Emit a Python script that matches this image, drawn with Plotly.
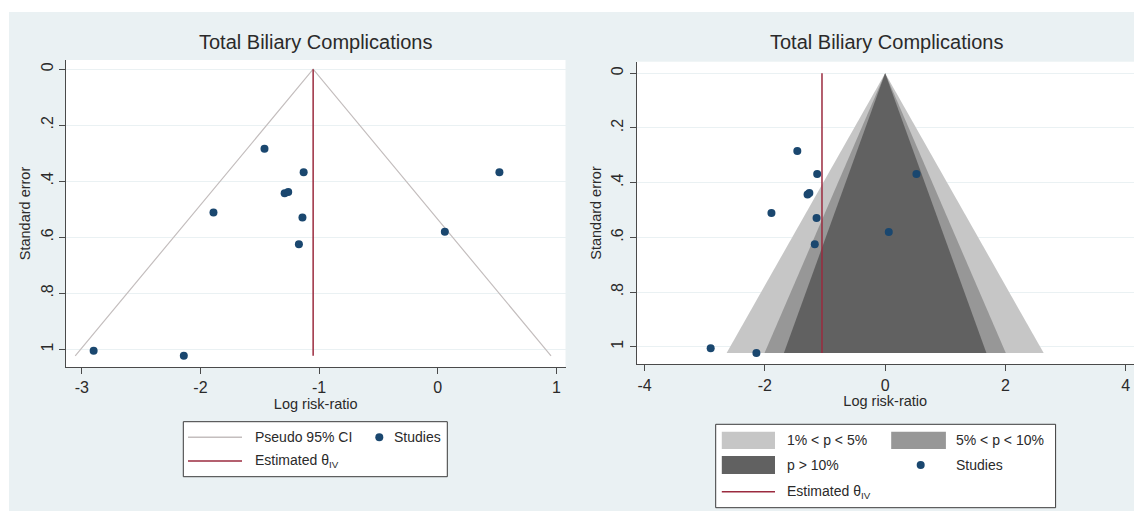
import plotly.graph_objects as go

# Study estimates: log risk-ratio and its standard error
log_rr = [-1.46, -1.13, 0.52, -1.29, -1.26, -1.89, -1.14, 0.06, -1.17, -2.90, -2.14]
std_err = [0.284, 0.368, 0.368, 0.443, 0.438, 0.511, 0.529, 0.580, 0.625, 1.005, 1.023]

# Pooled inverse-variance estimate
theta_iv = -1.05

# Critical values for the pseudo CI and the significance contours
z_ci = 1.96
contour_z = [2.576, 1.96, 1.645]
contour_labels = ["1% &lt; p &lt; 5%", "5% &lt; p &lt; 10%", "p &gt; 10%"]
contour_colors = ["#c6c6c6", "#979797", "#616161"]

y_tickvals = [0, 0.2, 0.4, 0.6, 0.8, 1.0]
y_ticktext = ["0", ".2", ".4", ".6", ".8", "1"]
x1_tickvals = [-3, -2, -1, 0, 1]
x1_ticktext = ["-3", "-2", "-1", "0", "1"]
x2_tickvals = [-4, -2, 0, 2, 4]
x2_ticktext = ["-4", "-2", "0", "2", "4"]

title_text = "Total Biliary Complications"
x_title = "Log risk-ratio"
y_title = "Standard error"

W, H = 1134, 511
FONT = "Liberation Sans, Arial, sans-serif"
TXT = "#2a2a2a"
AXC = "#4a4a4a"
BG = "#eaf1f3"
NAVY = "#1a476f"
MAROON = "#9b2b3f"
CI_GREY = "#c4bebe"

se_max = max(std_err)


def px(x):
    return x / W


def py(y):
    return 1 - y / H


fig = go.Figure()

# ---- left panel: funnel with pseudo 95% CI ----
fig.add_trace(go.Scatter(
    x=[theta_iv - z_ci * se_max, theta_iv, theta_iv + z_ci * se_max],
    y=[se_max, 0, se_max], mode="lines",
    line=dict(color=CI_GREY, width=1.2), xaxis="x", yaxis="y",
    showlegend=False, hoverinfo="skip"))
fig.add_trace(go.Scatter(
    x=[theta_iv, theta_iv], y=[0, se_max], mode="lines",
    line=dict(color=MAROON, width=1.5), xaxis="x", yaxis="y",
    showlegend=False, hoverinfo="skip"))
fig.add_trace(go.Scatter(
    x=log_rr, y=std_err, mode="markers",
    marker=dict(color=NAVY, size=8), xaxis="x", yaxis="y",
    showlegend=False))

# ---- right panel: contour-enhanced funnel ----
for z, col in zip(contour_z, contour_colors):
    fig.add_trace(go.Scatter(
        x=[-z * se_max, 0, z * se_max, -z * se_max],
        y=[se_max, 0, se_max, se_max], mode="lines", fill="toself",
        fillcolor=col, line=dict(width=0, color=col),
        xaxis="x2", yaxis="y2", showlegend=False, hoverinfo="skip"))
fig.add_trace(go.Scatter(
    x=[theta_iv, theta_iv], y=[0, se_max], mode="lines",
    line=dict(color=MAROON, width=1.5), xaxis="x2", yaxis="y2",
    showlegend=False, hoverinfo="skip"))
fig.add_trace(go.Scatter(
    x=log_rr, y=std_err, mode="markers",
    marker=dict(color=NAVY, size=8), xaxis="x2", yaxis="y2",
    showlegend=False))

axis_common = dict(
    showline=True, linecolor=AXC, linewidth=1, mirror=False,
    ticks="outside", ticklen=6, tickcolor=AXC, tickwidth=1,
    tickfont=dict(family=FONT, size=16, color=TXT), zeroline=False,
)

fig.update_layout(
    width=W, height=H, margin=dict(l=0, r=0, t=0, b=0),
    paper_bgcolor=BG, plot_bgcolor="white",
    font=dict(family=FONT, color=TXT),
    xaxis=dict(domain=[px(66), px(565.5)], range=[-3.133, 1.077],
               tickvals=x1_tickvals, ticktext=x1_ticktext, showgrid=False,
               title=dict(text=x_title, font=dict(size=14.5, color=TXT), standoff=3),
               anchor="y", **axis_common),
    yaxis=dict(domain=[py(367), py(60)], range=[1.063, -0.033],
               tickvals=y_tickvals, ticktext=y_ticktext, tickangle=-90,
               showgrid=True, gridcolor=BG, gridwidth=1,
               title=dict(text=y_title, font=dict(size=14.5, color=TXT), standoff=4),
               anchor="x", **axis_common),
    xaxis2=dict(domain=[px(636.5), 1.0], range=[-4.133, 4.136],
                tickvals=x2_tickvals, ticktext=x2_ticktext, showgrid=False,
                title=dict(text=x_title, font=dict(size=14.5, color=TXT), standoff=3),
                anchor="y2", **axis_common),
    yaxis2=dict(domain=[py(364.3), py(61.7)], range=[1.064, -0.042],
                tickvals=y_tickvals, ticktext=y_ticktext, tickangle=-90,
                showgrid=True, gridcolor=BG, gridwidth=1,
                title=dict(text=y_title, font=dict(size=14.5, color=TXT), standoff=4),
                anchor="x2", **axis_common),
    showlegend=False,
)

shapes = []
annotations = []

# white page margin around the graph region
shapes.append(dict(type="rect", xref="paper", yref="paper", x0=0, x1=1,
                   y0=py(12), y1=1, fillcolor="white", line=dict(width=0), layer="below"))
shapes.append(dict(type="rect", xref="paper", yref="paper", x0=0, x1=px(9),
                   y0=0, y1=1, fillcolor="white", line=dict(width=0), layer="below"))

# panel titles
for cx in (315, 886.5):
    annotations.append(dict(text=title_text, xref="paper", yref="paper",
                            x=px(cx), y=py(42), xanchor="center", yanchor="middle",
                            showarrow=False, font=dict(size=20, color=TXT, family=FONT)))


def legend_text(txt, x, y):
    annotations.append(dict(text=txt, xref="paper", yref="paper", x=px(x), y=py(y),
                            xanchor="left", yanchor="middle", showarrow=False,
                            font=dict(size=14, color=TXT, family=FONT)))


def legend_line(x0, x1, y, color):
    shapes.append(dict(type="line", xref="paper", yref="paper", x0=px(x0), x1=px(x1),
                       y0=py(y), y1=py(y), line=dict(color=color, width=1.5)))


def legend_dot(x, y):
    shapes.append(dict(type="circle", xref="paper", yref="paper",
                       xsizemode="pixel", ysizemode="pixel",
                       xanchor=px(x), yanchor=py(y), x0=-4, x1=4, y0=-4, y1=4,
                       fillcolor=NAVY, line=dict(width=0)))


def legend_swatch(x0, x1, y0, y1, color):
    shapes.append(dict(type="rect", xref="paper", yref="paper", x0=px(x0), x1=px(x1),
                       y0=py(y1), y1=py(y0), fillcolor=color, line=dict(width=0)))


# left legend
shapes.append(dict(type="rect", xref="paper", yref="paper", x0=px(183.3), x1=px(447.3),
                   y0=py(476.7), y1=py(421.7), fillcolor="white",
                   line=dict(color="#3a3a3a", width=1)))
legend_line(188, 242, 437.3, CI_GREY)
legend_text("Pseudo 95% CI", 252.7, 437.3)
legend_dot(379.3, 437.3)
legend_text("Studies", 391.6, 437.3)
legend_line(188, 242, 461, MAROON)
legend_text("Estimated θ<sub>IV</sub>", 252.7, 461)

# right legend
shapes.append(dict(type="rect", xref="paper", yref="paper", x0=px(715.7), x1=px(1055.6),
                   y0=py(507.7), y1=py(424.3), fillcolor="white",
                   line=dict(color="#3a3a3a", width=1)))
legend_swatch(721.8, 775, 431.7, 449, contour_colors[0])
legend_text(contour_labels[0], 785, 440)
legend_swatch(891.2, 945.9, 431.7, 449, contour_colors[1])
legend_text(contour_labels[1], 954.2, 440)
legend_swatch(721.8, 775, 456, 474, contour_colors[2])
legend_text(contour_labels[2], 785, 465)
legend_dot(920.7, 465)
legend_text("Studies", 954.2, 465)
legend_line(721.8, 775, 491.7, MAROON)
legend_text("Estimated θ<sub>IV</sub>", 785, 491.7)

fig.update_layout(shapes=shapes, annotations=annotations)

fig.write_html("out.html")
